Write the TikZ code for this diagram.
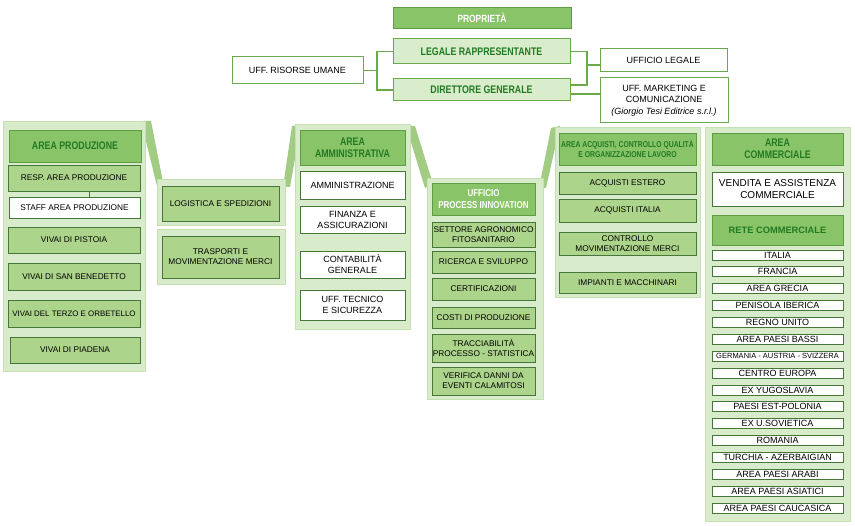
\documentclass[tikz,border=0pt]{standalone}
\usepackage{fontspec}
\setmainfont{Liberation Sans}
\newfontfamily\condbf{Liberation Sans}[FakeStretch=0.8]
\usepackage{tikz}
\definecolor{panelgreen}{HTML}{D8EBCA}
\definecolor{paneledge}{HTML}{C6E0B2}
\definecolor{bandgreen}{HTML}{A2CC83}
\definecolor{headgreen}{HTML}{8AC468}
\definecolor{headedge}{HTML}{5F9D44}
\definecolor{unitgreen}{HTML}{ADD48B}
\definecolor{edgegreen}{HTML}{46763A}
\definecolor{palegreen}{HTML}{D9ECCB}
\definecolor{linegreen}{HTML}{6AAA4A}
\definecolor{textgreen}{HTML}{217A22}

\begin{document}
\begin{tikzpicture}[x=1pt,y=-1pt,
  sz/.style 2 args={minimum width=#1pt,minimum height=#2pt},
  panel/.style={fill=panelgreen,draw=paneledge,line width=1pt},
  band/.style={fill=bandgreen},
  unit/.style={draw=edgegreen,fill=unitgreen,line width=0.8pt,inner sep=0pt,align=center,font=\fontsize{8.3}{9.8}\selectfont},
  wunit/.style={unit,fill=white},
  big/.style={font=\fontsize{9}{11}\selectfont},
  head/.style={unit,draw=headedge,fill=headgreen,text=textgreen,font=\condbf\bfseries\fontsize{11}{12}\selectfont},
  lead/.style={head,fill=palegreen,draw=linegreen,line width=1pt},
  staffbox/.style={wunit,draw=linegreen,line width=1pt,font=\fontsize{9}{11.5}\selectfont},
  item/.style={wunit,sz={131}{10},font=\fontsize{9}{9}\selectfont},
  link/.style={draw=linegreen,line width=1.5pt}]
\useasboundingbox (0,0) rectangle (855,526);

\fill[band] (141,121) -- (151,121) -- (163,182) -- (157,186) -- cycle;
\fill[band] (283,187) -- (292,126) -- (301,125) -- (290,187) -- cycle;
\fill[band] (406,126) -- (415,126) -- (433,184) -- (425,188) -- cycle;
\fill[band] (539,188) -- (551,128) -- (560,126) -- (546,188) -- cycle;
\draw[panel] (3,122) rectangle (145,372);
\draw[panel] (157,180) rectangle (285,226);
\draw[panel] (157,230) rectangle (285,285);
\draw[panel] (295,125) rectangle (410,330);
\draw[panel] (427,179) rectangle (543,400);
\draw[panel] (555,128) rectangle (700,298);
\draw[panel] (705,128) rectangle (850,522);

\node[head,text=white,sz={178}{21},font=\condbf\bfseries\fontsize{10.5}{12}\selectfont] (prop) at (482,17.5) {PROPRIETÀ};
\node[lead,sz={177}{25}] (leg) at (481.5,51.5) {LEGALE RAPPRESENTANTE};
\node[lead,sz={177}{22}] (dir) at (481.5,90) {DIRETTORE GENERALE};
\node[staffbox,sz={131}{27}] (hr) at (297.5,70.5) {UFF. RISORSE UMANE};
\node[staffbox,sz={127}{23}] (uleg) at (663.5,60.5) {UFFICIO LEGALE};
\node[staffbox,sz={128}{45}] (mkt) at (664,100.5) {UFF. MARKETING E\\COMUNICAZIONE\\{\itshape (Giorgio Tesi Editrice s.r.l.)}};
\coordinate (jl) at (377,70.5);
\coordinate (jr) at (587,85);
\coordinate (ju) at (587,65);
\draw[link] (hr) -- (jl);
\draw[link] (leg) -| (jl) |- (dir);
\draw[link] (leg) -| (jr) -- (jr -| dir.east);
\draw[link] (ju) -- (ju -| uleg.west);
\draw[link] ([yshift=-4pt]dir.east) -- ([yshift=-4pt]dir.east -| mkt.west);

\node[head,sz={132}{32}] (prod) at (75,146) {AREA PRODUZIONE};
\node[unit,sz={132}{26}] (resp) at (74,178) {RESP. AREA PRODUZIONE};
\node[wunit,sz={131}{21}] (staff) at (74.5,207.5) {STAFF AREA PRODUZIONE};
\node[unit,sz={132}{26}] (pist) at (74,240) {VIVAI DI PISTOIA};
\node[unit,sz={132}{27}] (sanb) at (74,276.5) {VIVAI DI SAN BENEDETTO};
\node[unit,sz={132}{27},font=\fontsize{7.9}{9.5}\selectfont] (orb) at (74,313.5) {VIVAI DEL TERZO E ORBETELLO};
\node[unit,sz={130}{26}] (piad) at (75,350) {VIVAI DI PIADENA};
\draw[edgegreen,line width=0.8pt] ([xshift=15pt]resp.south) -- ([xshift=15pt]resp.south |- staff.north);

\node[unit,sz={117}{35}] (logi) at (220.5,203.5) {LOGISTICA E SPEDIZIONI};
\node[unit,sz={117}{42}] (tras) at (220.5,257) {TRASPORTI E\\MOVIMENTAZIONE MERCI};

\node[head,sz={105}{35}] (amm) at (352.5,147.5) {AREA\\AMMINISTRATIVA};
\node[wunit,big,sz={105}{28}] (ammz) at (352.5,185) {AMMINISTRAZIONE};
\node[wunit,big,sz={105}{27}] (fin) at (352.5,219.5) {FINANZA E\\ASSICURAZIONI};
\node[wunit,big,sz={105}{27}] (cont) at (352.5,264.5) {CONTABILITÀ\\GENERALE};
\node[wunit,big,sz={105}{30}] (tec) at (352.5,305) {UFF. TECNICO\\E SICUREZZA};

\node[head,text=white,sz={103}{32},font=\condbf\bfseries\fontsize{10}{12}\selectfont] (proc) at (483.5,199) {UFFICIO\\PROCESS INNOVATION};
\node[unit,sz={103}{25}] (sett) at (483.5,234.5) {SETTORE AGRONOMICO\\FITOSANITARIO};
\node[unit,sz={103}{22}] (ric) at (483.5,262) {RICERCA E SVILUPPO};
\node[unit,sz={103}{22}] (cert) at (483.5,289) {CERTIFICAZIONI};
\node[unit,sz={103}{21}] (costi) at (483.5,317.5) {COSTI DI PRODUZIONE};
\node[unit,sz={103}{28}] (tracc) at (483.5,348) {TRACCIABILITÀ\\PROCESSO - STATISTICA};
\node[unit,sz={103}{28}] (verif) at (483.5,381) {VERIFICA DANNI DA\\EVENTI CALAMITOSI};

\node[head,sz={137}{32},font=\condbf\bfseries\fontsize{8.5}{10.5}\selectfont] (acq) at (627.5,149) {AREA ACQUISTI, CONTROLLO QUALITÀ\\E ORGANIZZAZIONE LAVORO};
\node[unit,sz={137}{22}] (est) at (627.5,183) {ACQUISTI ESTERO};
\node[unit,sz={137}{23}] (ita) at (627.5,210.5) {ACQUISTI ITALIA};
\node[unit,sz={137}{23}] (ctrl) at (627.5,243.5) {CONTROLLO\\MOVIMENTAZIONE MERCI};
\node[unit,sz={137}{21}] (impi) at (627.5,282.5) {IMPIANTI E MACCHINARI};

\node[head,sz={131}{32}] (comm) at (777.5,149) {AREA\\COMMERCIALE};
\node[wunit,sz={131}{34},font=\fontsize{10}{12}\selectfont] (vend) at (777.5,189) {VENDITA E ASSISTENZA\\COMMERCIALE};
\node[head,sz={131}{30},font=\bfseries\fontsize{9.3}{11}\selectfont] (rete) at (777.5,230) {RETE COMMERCIALE};
\foreach [count=\i from 0] \t in {ITALIA,FRANCIA,AREA GRECIA,PENISOLA IBERICA,REGNO UNITO,AREA PAESI BASSI,{\fontsize{7.5}{7.5}\selectfont GERMANIA - AUSTRIA - SVIZZERA},CENTRO EUROPA,EX YUGOSLAVIA,PAESI EST-POLONIA,EX U.SOVIETICA,ROMANIA,TURCHIA - AZERBAIGIAN,AREA PAESI ARABI,AREA PAESI ASIATICI,AREA PAESI CAUCASICA}
  \node[item] (c\i) at (777.5,255+16.87*\i) {\t};
\end{tikzpicture}
\end{document}
